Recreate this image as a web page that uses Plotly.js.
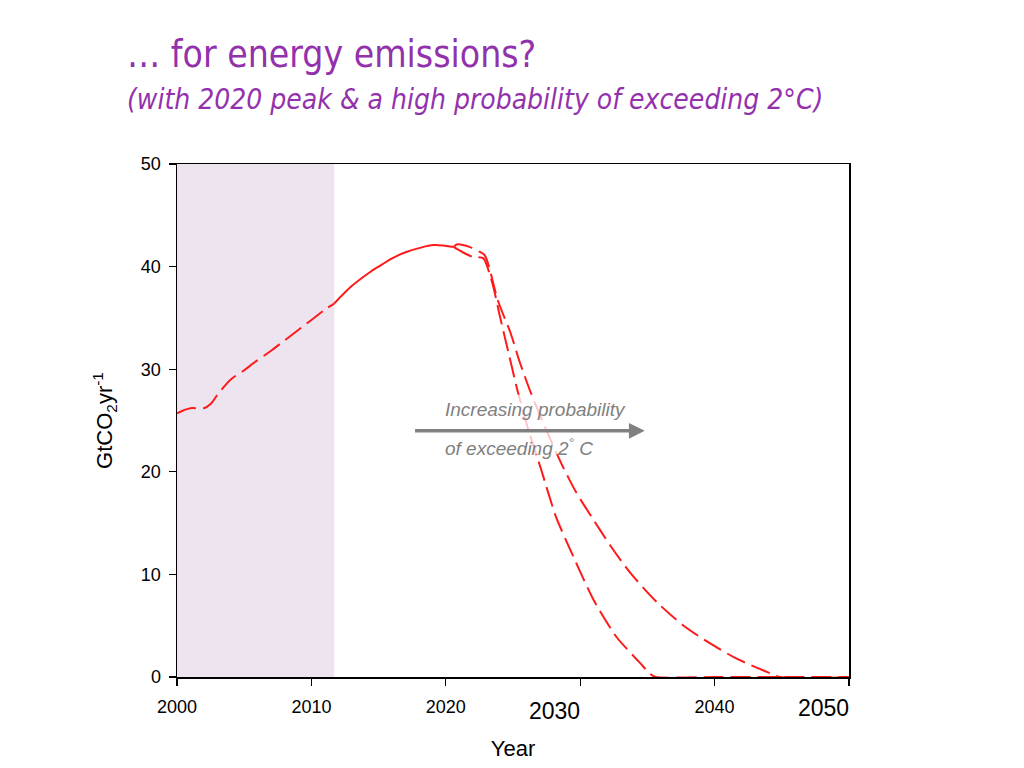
<!DOCTYPE html>
<html>
<head>
<meta charset="utf-8">
<script src="https://cdn.plot.ly/plotly-3.0.1.min.js"></script>
<style>html,body{margin:0;padding:0;background:#fff;}#chart{width:1024px;height:768px;}</style>
</head>
<body>
<div id="chart"></div>
<script>
// Historical emissions (dashed, shaded period)
const histYears = [2000, 2000.5, 2001, 2002, 2002.5, 2003, 2003.5, 2004, 2005, 2005.7, 2007, 2008, 2009, 2010, 2011, 2011.7];
const histValues = [25.7, 26.0, 26.2, 26.2, 26.6, 27.5, 28.3, 29.0, 29.9, 30.6, 31.8, 32.8, 33.8, 34.8, 35.8, 36.4];

// Shared pathway segment before the peak
const sharedYears = [2011.7, 2013, 2014.4, 2015, 2016, 2017, 2018, 2019.1, 2020.6];
const sharedValues = [36.4, 38.1, 39.5, 40.0, 40.8, 41.4, 41.8, 42.1, 41.9];

// Scenario A: faster decline, zero by ~2035.6
const scenAYears = [2020.6, 2021.4, 2022, 2022.8, 2023.5, 2024, 2024.65, 2025.3, 2026.1, 2027.1, 2028.2, 2029.5, 2031.0, 2032.7, 2034.5, 2035.2, 2035.6, 2040, 2045, 2050];
const scenAValues = [41.9, 41.3, 40.95, 40.8, 38.2, 35.3, 31.7, 28.1, 24.3, 20.2, 15.6, 11.7, 7.5, 3.9, 1.3, 0.3, 0, 0, 0, 0];

// Scenario B: slower decline, zero by ~2045
const scenBYears = [2020.6, 2020.8, 2021.8, 2022.5, 2022.9, 2023.9, 2024.8, 2025.5, 2026.3, 2027.5, 2028.6, 2029.7, 2031.0, 2032.3, 2033.7, 2035.7, 2037.7, 2039.7, 2041.6, 2043.6, 2044.9, 2050];
const scenBValues = [41.9, 42.15, 41.9, 41.45, 41.1, 36.6, 33.6, 30.7, 27.8, 24.0, 20.8, 18.0, 15.3, 12.7, 10.2, 7.3, 5.0, 3.25, 1.82, 0.66, 0, 0];

// Axis ticks
const xTickVals = [2000, 2010, 2020, 2030, 2040, 2050];
const xTickText = ['2000', '2010', '2020', '', '2040', ''];
const yTickVals = [0, 10, 20, 30, 40, 50];

const red = '#ff1a1a';
const dashPat = '20px,7px';

const traces = [
  {x: histYears, y: histValues, mode: 'lines', line: {color: red, width: 2, dash: dashPat, shape: 'spline'}, hoverinfo: 'skip'},
  {x: sharedYears, y: sharedValues, mode: 'lines', line: {color: red, width: 2, shape: 'spline'}, hoverinfo: 'skip'},
  {x: scenAYears, y: scenAValues, mode: 'lines', line: {color: red, width: 2, dash: dashPat, shape: 'spline', smoothing: 0.6}, hoverinfo: 'skip'},
  {x: scenBYears, y: scenBValues, mode: 'lines', line: {color: red, width: 2, dash: dashPat, shape: 'spline', smoothing: 0.8}, hoverinfo: 'skip'}
];

const sans = 'Liberation Sans, Arial, sans-serif';
const axisFont = {family: sans, size: 18, color: '#000'};
const titleColor = '#9331ad';
const titleFamily = 'DejaVu Sans Condensed, DejaVu Sans, sans-serif';

const layout = {
  width: 1024, height: 768,
  paper_bgcolor: '#fff', plot_bgcolor: 'rgba(0,0,0,0)',
  showlegend: false,
  margin: {l: 177, r: 175, t: 164, b: 91},
  xaxis: {
    range: [2000, 2050], tickvals: xTickVals, ticktext: xTickText,
    ticks: 'outside', ticklen: 7, tickwidth: 1.2, tickcolor: '#000',
    showline: true, linecolor: '#000', linewidth: 1.5, mirror: true,
    showgrid: false, zeroline: false, tickfont: axisFont, ticklabelstandoff: 6,
    title: {text: 'Year', font: {family: sans, size: 22, color: '#000'}, standoff: 24}
  },
  yaxis: {
    range: [0, 50], tickvals: yTickVals,
    ticks: 'outside', ticklen: 7, tickwidth: 1.2, tickcolor: '#000',
    showline: true, linecolor: '#000', linewidth: 1.5, mirror: true,
    showgrid: false, zeroline: false, tickfont: axisFont, ticklabelstandoff: 4,
    title: {text: 'GtCO<sub>2</sub>yr<sup>-1</sup>', font: {family: sans, size: 22, color: '#000'}, standoff: 22}
  },
  shapes: [
    {type: 'rect', xref: 'x', yref: 'y', x0: 2000, x1: 2011.7, y0: 0, y1: 50, fillcolor: '#ede4ef', line: {width: 0}, layer: 'below'},
    {type: 'rect', xref: 'x', yref: 'y', x0: 2019.7, x1: 2034.6, y0: 21.7, y1: 27.5, fillcolor: 'rgba(255,255,255,0.75)', line: {width: 0}, layer: 'above'}
  ],
  annotations: [
    {xref: 'paper', yref: 'paper', x: -0.078, y: 1.2125, xanchor: 'left', yanchor: 'middle', showarrow: false,
     text: '… for energy emissions?', font: {family: titleFamily, size: 37, color: titleColor}},
    {xref: 'paper', yref: 'paper', x: -0.078, y: 1.1248, xanchor: 'left', yanchor: 'middle', showarrow: false,
     text: '<i>(with 2020 peak &amp; a high probability of exceeding 2°C)</i>', font: {family: titleFamily, size: 28, color: titleColor}},
    {xref: 'x', yref: 'paper', x: 2028.1, y: -0.037, xanchor: 'center', yanchor: 'top', showarrow: false,
     text: '2030', font: {family: sans, size: 23, color: '#000'}},
    {xref: 'x', yref: 'paper', x: 2048.1, y: -0.031, xanchor: 'center', yanchor: 'top', showarrow: false,
     text: '2050', font: {family: sans, size: 23, color: '#000'}},
    {xref: 'x', yref: 'y', x: 2034.8, y: 24.0, ax: 2017.6, ay: 24.0, axref: 'x', ayref: 'y', showarrow: true,
     arrowhead: 2, arrowsize: 0.9, arrowwidth: 3.5, arrowcolor: '#808080', text: ''},
    {xref: 'x', yref: 'y', x: 2019.8, y: 26.1, xanchor: 'left', yanchor: 'middle', showarrow: false,
     text: '<i>Increasing probability</i>', font: {family: sans, size: 19, color: '#808080'}},
    {xref: 'x', yref: 'y', x: 2019.8, y: 22.4, xanchor: 'left', yanchor: 'middle', showarrow: false,
     text: '<i>of exceeding 2<sup>°</sup> C</i>', font: {family: sans, size: 19, color: '#808080'}}
  ]
};

Plotly.newPlot('chart', traces, layout, {staticPlot: true, displayModeBar: false});
</script>
</body>
</html>
